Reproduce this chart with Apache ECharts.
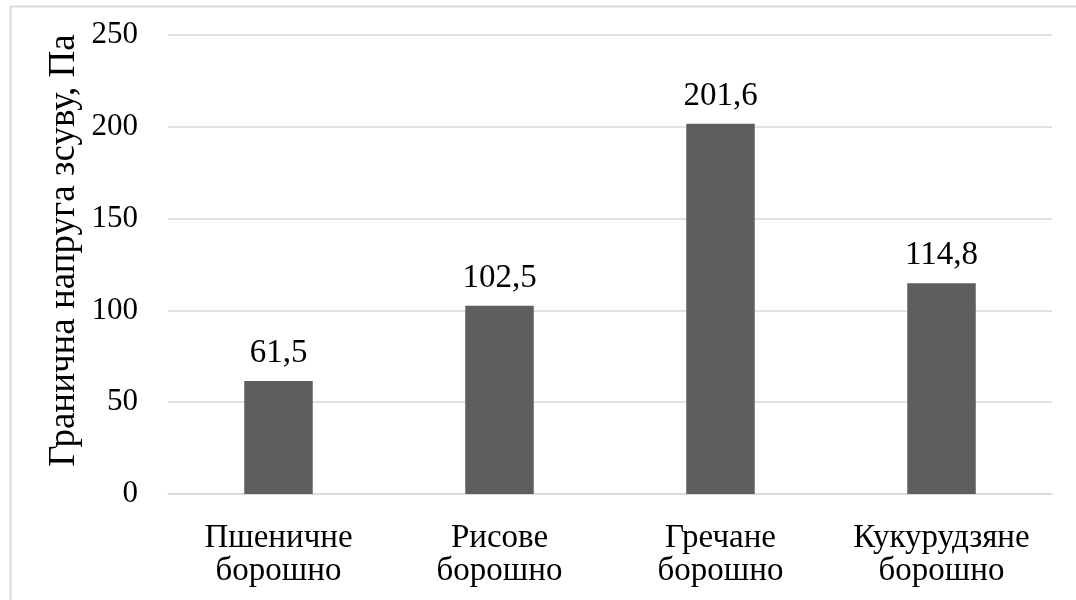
<!DOCTYPE html>
<html>
<head>
<meta charset="utf-8">
<script src="https://cdn.jsdelivr.net/npm/echarts@6/dist/echarts.min.js"></script>
<style>
  html, body { margin: 0; padding: 0; background: #ffffff; }
  #chart { width: 1076px; height: 600px; }
</style>
</head>
<body>
<div id="chart"></div>
<script>
// Flour types and yield stress values (Pa)
const categories = ['Пшеничне\nборошно', 'Рисове\nборошно', 'Гречане\nборошно', 'Кукурудзяне\nборошно'];
const values = [61.5, 102.5, 201.6, 114.8];
const yTicks = { min: 0, max: 250, interval: 50 };
const yTitle = 'Гранична напруга зсуву, Па';

const FONT = '"Liberation Serif", "Times New Roman", serif';
const chart = echarts.init(document.getElementById('chart'), null, { renderer: 'canvas' });

chart.setOption({
  backgroundColor: '#ffffff',
  animation: false,
  graphic: [{
    type: 'rect',
    left: 8, top: 4,
    shape: { width: 1100, height: 700 },
    style: { fill: 'none', stroke: '#d9d9d9', lineWidth: 2 },
    silent: true
  }],
  grid: { left: 168, right: 24, top: 35, bottom: 106 },
  xAxis: {
    type: 'category',
    data: categories,
    axisLine: { show: true, lineStyle: { color: '#d9d9d9', width: 1.5 } },
    axisTick: { show: false },
    axisLabel: {
      interval: 0,
      color: '#000000', fontFamily: FONT, fontSize: 33, lineHeight: 33, margin: 28
    }
  },
  yAxis: {
    type: 'value',
    min: yTicks.min, max: yTicks.max, interval: yTicks.interval,
    name: yTitle,
    nameLocation: 'middle',
    nameGap: 85,
    nameMoveOverlap: false,
    nameTextStyle: {
      color: '#000000', fontFamily: FONT, fontSize: 37,
      padding: [0, 0, 0, 28]
    },
    axisLine: { show: false },
    axisTick: { show: false },
    splitLine: { lineStyle: { color: '#d9d9d9', width: 1.5 } },
    axisLabel: { color: '#000000', fontFamily: FONT, fontSize: 31, margin: 30 }
  },
  series: [{
    type: 'bar',
    data: values,
    barWidth: '31%',
    itemStyle: { color: '#5e5e5e' },
    label: {
      show: true, position: 'top', distance: 11,
      color: '#000000', fontFamily: FONT, fontSize: 33,
      formatter: p => String(p.value).replace('.', ',')
    }
  }]
});
</script>
</body>
</html>
